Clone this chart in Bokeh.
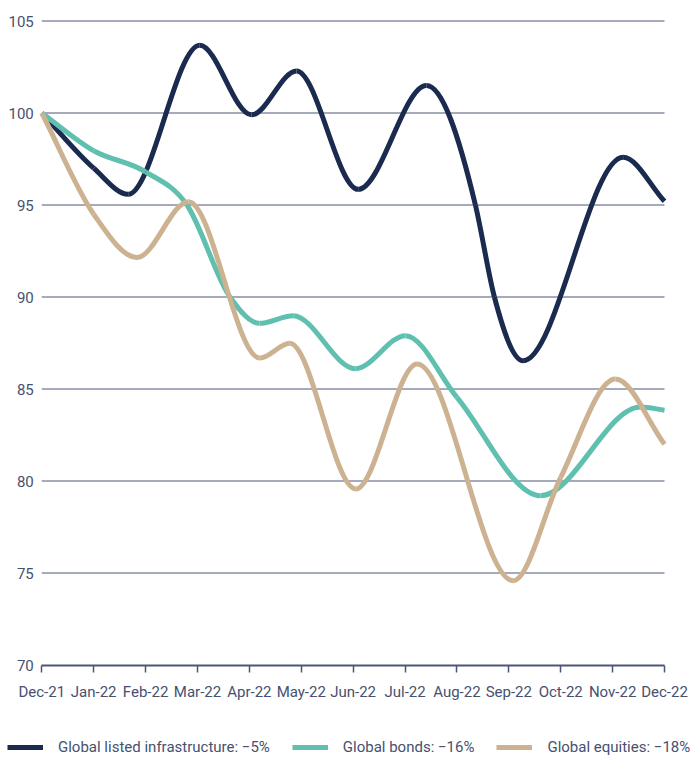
from bokeh.plotting import figure
from bokeh.models import Range1d, FixedTicker, Legend, LegendItem, ColumnDataSource
from bokeh.embed import file_html
from bokeh.resources import INLINE

# ---- data: index level (Dec-21 = 100) ----
# x positions are in months after Dec-21 (0 = Dec-21, 12 = Dec-22)
month_labels = ["Dec-21", "Jan-22", "Feb-22", "Mar-22", "Apr-22", "May-22", "Jun-22",
                "Jul-22", "Aug-22", "Sep-22", "Oct-22", "Nov-22", "Dec-22"]

infra_x = [0, 1.0, 1.665, 3.044, 4.04, 4.908, 6.096, 7.412, 8.356, 8.722, 9.275, 11.202, 12]
infra_y = [100, 97.0, 95.58, 103.68, 99.9, 102.28, 95.85, 101.5, 95.0, 90.0, 86.54, 97.59, 95.2]

bonds_x = [0, 1.0, 2.0, 2.798, 3.626, 4.195, 4.844, 6.044, 7.008, 8.0, 9.609, 11.536, 12]
bonds_y = [100, 97.95, 96.8, 95.0, 90.0, 88.57, 88.98, 86.1, 87.9, 84.55, 79.2, 84.02, 83.85]

equities_x = [0, 1.0, 1.834, 2.827, 4.2, 4.778, 6.05, 7.233, 9.083, 10.0, 11.054, 12]
equities_y = [100, 94.5, 92.15, 95.18, 86.68, 87.48, 79.57, 86.36, 74.58, 80.2, 85.54, 82.0]

y_ticks = [70, 75, 80, 85, 90, 95, 100, 105]
series_names = ["Global listed infrastructure: \u22125%", "Global bonds: \u221216%",
                "Global equities: \u221218%"]
series_colors = ["#1b2b4f", "#5fc0af", "#cdb292"]

TEXT = "#46516f"
GRID = "#4b5676"
LINE_W = 5

# ---- page geometry (pixels) ----
W, H = 694, 758
X_LEFT, X_RIGHT = 41.3, 664.0      # pixel of first / last month
Y_TOP, Y_BOTTOM = 20.5, 664.5      # pixel of top / bottom y tick
n_months = len(month_labels) - 1
px_per_month = (X_RIGHT - X_LEFT) / n_months
px_per_unit = (Y_BOTTOM - Y_TOP) / (y_ticks[-1] - y_ticks[0])
x_range = Range1d(-X_LEFT / px_per_month, n_months + (W - X_RIGHT) / px_per_month)
y_range = Range1d(y_ticks[0] - (H - Y_BOTTOM) / px_per_unit,
                  y_ticks[-1] + Y_TOP / px_per_unit)


def smooth_source(xs, ys):
    """Smooth cubic through the readings (flat at turning points), as Bezier segments."""
    n = len(xs)
    h = [xs[i + 1] - xs[i] for i in range(n - 1)]
    d = [(ys[i + 1] - ys[i]) / h[i] for i in range(n - 1)]
    m = [0.0] * n
    m[0], m[-1] = d[0], d[-1]
    for i in range(1, n - 1):
        d0, d1, h0, h1 = d[i - 1], d[i], h[i - 1], h[i]
        if d0 * d1 <= 0:
            m[i] = 0.0
        else:
            m[i] = (d0 * h1 + d1 * h0) / (h0 + h1)
    src = dict(x0=[], y0=[], x1=[], y1=[], cx0=[], cy0=[], cx1=[], cy1=[])
    for i in range(n - 1):
        xa, ya, xb, yb = xs[i], ys[i], xs[i + 1], ys[i + 1]
        src["x0"].append(xa); src["y0"].append(ya)
        src["x1"].append(xb); src["y1"].append(yb)
        src["cx0"].append(xa + h[i] / 3); src["cy0"].append(ya + m[i] * h[i] / 3)
        src["cx1"].append(xb - h[i] / 3); src["cy1"].append(yb - m[i + 1] * h[i] / 3)
    return ColumnDataSource(src)


p = figure(width=W, height=H, x_range=x_range, y_range=y_range,
           output_backend="svg", toolbar_location=None,
           min_border_left=0, min_border_right=0, min_border_top=0, min_border_bottom=0)
p.outline_line_color = None
p.background_fill_color = "white"
p.border_fill_color = "white"
p.xgrid.grid_line_color = None
p.ygrid.grid_line_color = None

# horizontal gridlines spanning Dec-21 .. Dec-22
p.segment(x0=0, x1=n_months, y0=y_ticks[1:], y1=y_ticks[1:],
          line_color=GRID, line_width=1)

# x axis drawn at y = 70
p.xaxis.fixed_location = y_ticks[0]
p.xaxis.bounds = (0, n_months)
p.xaxis.ticker = FixedTicker(ticks=list(range(len(month_labels))))
p.xaxis.major_label_overrides = {i: lab for i, lab in enumerate(month_labels)}
p.xaxis.axis_line_color = GRID
p.xaxis.axis_line_width = 2
p.xaxis.major_tick_line_color = GRID
p.xaxis.major_tick_line_width = 1.5
p.xaxis.major_tick_out = 7
p.xaxis.major_tick_in = 0
p.xaxis.minor_tick_line_color = None
p.xaxis.major_label_standoff = 11
p.xaxis.major_label_text_font = "Roboto"
p.xaxis.major_label_text_font_size = "15px"
p.xaxis.major_label_text_color = TEXT

# y axis labels at Dec-21
p.yaxis.fixed_location = 0
p.yaxis.bounds = (y_ticks[0], y_ticks[-1])
p.yaxis.ticker = FixedTicker(ticks=y_ticks)
p.yaxis.axis_line_color = None
p.yaxis.major_tick_line_color = None
p.yaxis.minor_tick_line_color = None
p.yaxis.major_tick_out = 0
p.yaxis.major_tick_in = 0
p.yaxis.major_label_standoff = 8
p.yaxis.major_label_text_font = "Roboto"
p.yaxis.major_label_text_font_size = "15px"
p.yaxis.major_label_text_color = TEXT

items = []
for name, xs, ys, col in zip(series_names,
                             [infra_x, bonds_x, equities_x],
                             [infra_y, bonds_y, equities_y],
                             series_colors):
    r = p.bezier(x0="x0", y0="y0", x1="x1", y1="y1", cx0="cx0", cy0="cy0", cx1="cx1", cy1="cy1",
                 source=smooth_source(xs, ys), line_color=col, line_width=LINE_W,
                 line_cap="butt")
    items.append(LegendItem(label=name, renderers=[r]))

legend = Legend(items=items, location=(7, 1), orientation="horizontal",
                glyph_width=36, glyph_height=20, label_standoff=15, spacing=22,
                padding=0, margin=0, border_line_color=None, background_fill_alpha=0,
                label_text_font="Roboto", label_text_font_size="15px",
                label_text_color=TEXT)
p.add_layout(legend, "center")

open("out.html", "w").write(file_html(p, INLINE))
